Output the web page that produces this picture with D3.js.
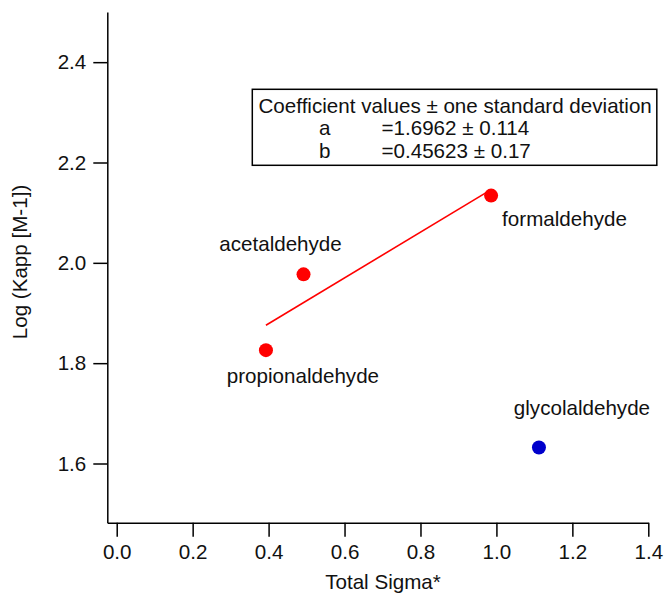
<!DOCTYPE html>
<html>
<head>
<meta charset="utf-8">
<script src="https://cdn.jsdelivr.net/npm/d3@7"></script>
<style>
  body { margin: 0; background: #fff; }
  svg { display: block; font-family: "Liberation Sans", Arial, sans-serif; }
  .axis path, .axis line { stroke: #000; stroke-width: 1.5; }
  .axis text { font-size: 20.6px; fill: #111; }
</style>
</head>
<body>
<svg width="665" height="594"></svg>
<script>
// data
var names   = ["acetaldehyde", "propionaldehyde", "formaldehyde", "glycolaldehyde"];
var sigma   = [0.492, 0.393, 0.986, 1.112];
var logKapp = [1.977, 1.826, 2.134, 1.632];
var fitted  = [true, true, true, false];   // glycolaldehyde not in the fit

var xTicks = [0.0, 0.2, 0.4, 0.6, 0.8, 1.0, 1.2, 1.4];
var yTicks = [1.6, 1.8, 2.0, 2.2, 2.4];

var coefA = 1.6962, coefAerr = 0.114;
var coefB = 0.45623, coefBerr = 0.17;

var fs = "20.6px";

// where each label sits relative to its point
var labelPos = {
  acetaldehyde:    { dx: -23, dy: -23, anchor: "middle" },
  propionaldehyde: { dx: 37,  dy: 33,  anchor: "middle" },
  formaldehyde:    { dx: 11,  dy: 30,  anchor: "start" },
  glycolaldehyde:  { dx: 43,  dy: -32, anchor: "middle" }
};

var svg = d3.select("svg");

var x = d3.scaleLinear().domain([-0.0248, 1.4]).range([107.3, 648.3]);
var y = d3.scaleLinear().domain([1.482, 2.5]).range([522.7, 12]);

var xAxis = d3.axisBottom(x).tickValues(xTicks).tickFormat(d3.format(".1f"))
              .tickSize(14).tickSizeOuter(0).tickPadding(8);
var yAxis = d3.axisLeft(y).tickValues(yTicks).tickFormat(d3.format(".1f"))
              .tickSize(14).tickSizeOuter(0).tickPadding(7);

svg.append("g").attr("class", "axis")
   .attr("transform", "translate(0," + y.range()[0] + ")")
   .call(xAxis);

svg.append("g").attr("class", "axis")
   .attr("transform", "translate(" + x.range()[0] + ",0)")
   .call(yAxis);

svg.selectAll(".axis text").attr("font-family", null);

// axis titles
svg.append("text")
   .attr("x", 383).attr("y", 589)
   .attr("text-anchor", "middle")
   .style("font-size", fs).attr("fill", "#111")
   .text("Total Sigma*");

svg.append("text")
   .attr("transform", "translate(27,262) rotate(-90)")
   .attr("text-anchor", "middle")
   .style("font-size", fs).attr("fill", "#111")
   .text("Log (Kapp [M-1])");

// fit line over the range of the fitted points
var fitX = d3.extent(sigma.filter(function(d, i) { return fitted[i]; }));
svg.append("line")
   .attr("x1", x(fitX[0])).attr("y1", y(coefA + coefB * fitX[0]))
   .attr("x2", x(fitX[1])).attr("y2", y(coefA + coefB * fitX[1]))
   .attr("stroke", "#ff0000").attr("stroke-width", 1.6);

var pts = names.map(function(n, i) {
  return { name: n, sx: sigma[i], ly: logKapp[i], fit: fitted[i] };
});

svg.selectAll("circle.pt")
   .data(pts).enter().append("circle")
   .attr("class", "pt")
   .attr("cx", function(d) { return x(d.sx); })
   .attr("cy", function(d) { return y(d.ly); })
   .attr("r", 7)
   .attr("fill", function(d) { return d.fit ? "#ff0000" : "#0000cc"; });

svg.selectAll("text.lbl")
   .data(pts).enter().append("text")
   .attr("class", "lbl")
   .attr("x", function(d) { return x(d.sx) + labelPos[d.name].dx; })
   .attr("y", function(d) { return y(d.ly) + labelPos[d.name].dy; })
   .attr("text-anchor", function(d) { return labelPos[d.name].anchor; })
   .style("font-size", fs).attr("fill", "#111")
   .text(function(d) { return d.name; });

// coefficient box
var box = svg.append("g");
var rows = [
  ["Coefficient values \u00b1 one standard deviation", null],
  ["a", "=" + coefA + " \u00b1 " + coefAerr],
  ["b", "=" + coefB + " \u00b1 " + coefBerr]
];
rows.forEach(function(r, i) {
  var by = 112.7 + i * 22.7;
  if (i === 0) {
    box.append("text").attr("x", 258.5).attr("y", by)
       .style("font-size", fs).attr("fill", "#111").text(r[0]);
  } else {
    box.append("text").attr("x", 319).attr("y", by)
       .style("font-size", fs).attr("fill", "#111").text(r[0]);
    box.append("text").attr("x", 381.5).attr("y", by)
       .style("font-size", fs).attr("fill", "#111").text(r[1]);
  }
});
var bb = box.node().getBBox();
box.insert("rect", ":first-child")
   .attr("x", 252.3).attr("y", 89.3)
   .attr("width", bb.x + bb.width + 5 - 252.3)
   .attr("height", 76)
   .attr("fill", "#fff").attr("stroke", "#000").attr("stroke-width", 1.5);
</script>
</body>
</html>
